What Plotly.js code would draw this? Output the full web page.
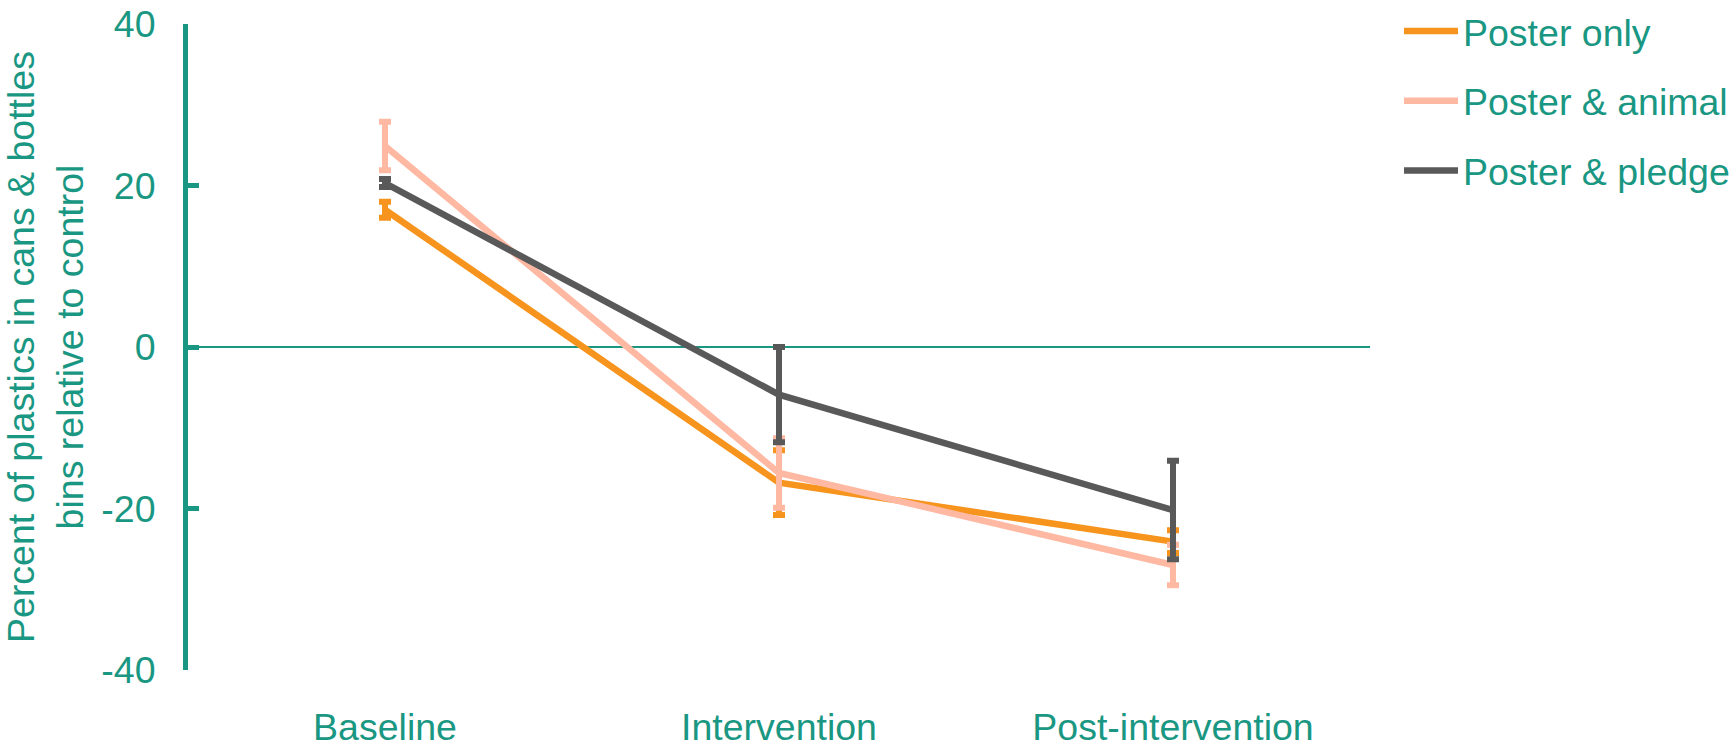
<!DOCTYPE html>
<html>
<head>
<meta charset="utf-8">
<script src="https://cdn.plot.ly/plotly-3.0.1.min.js"></script>
<style>
  html, body { margin: 0; padding: 0; background: #ffffff; }
  #chart { width: 1731px; height: 744px; }
</style>
</head>
<body>
<div id="chart"></div>
<script>
// ---- Data ----
const categories = ['Baseline', 'Intervention', 'Post-intervention'];

const posterOnly = [17.0, -16.8, -24.1];
const posterOnlyErr = [1.0, 4.0, 1.4];

const posterAnimal = [24.9, -15.6, -27.0];
const posterAnimalErr = [3.0, 4.3, 2.5];

const posterPledge = [20.3, -5.9, -20.2];
const posterPledgeErr = [0.5, 5.9, 6.1];

const seriesNames = ['Poster only', 'Poster & animal', 'Poster & pledge'];

const yTickVals = [-40, -20, 0, 20, 40];

// ---- Styling ----
const TEAL = '#1A9782';
const COLORS = ['#F7941E', '#FFB8A2', '#595959'];
const FONT = 'Liberation Sans, Arial, sans-serif';
const FS = 37.5;

function makeTrace(name, y, err, color, group) {
  return {
    type: 'scatter',
    mode: 'lines',
    name: name,
    legendgroup: group,
    x: categories,
    y: y,
    line: { color: color, width: 6.5 },
    error_y: {
      type: 'data',
      array: err,
      visible: true,
      color: color,
      thickness: 6,
      width: 6
    },
    hoverinfo: 'x+y+name'
  };
}

const data = [
  makeTrace(seriesNames[0], posterOnly, posterOnlyErr, COLORS[0], 'g1'),
  makeTrace(seriesNames[1], posterAnimal, posterAnimalErr, COLORS[1], 'g2'),
  makeTrace(seriesNames[2], posterPledge, posterPledgeErr, COLORS[2], 'g3')
];

const layout = {
  width: 1731,
  height: 744,
  paper_bgcolor: '#ffffff',
  plot_bgcolor: '#ffffff',
  font: { family: FONT, size: FS, color: TEAL },
  margin: { l: 188, r: 361, t: 24, b: 74, pad: 0 },
  showlegend: true,
  legend: {
    xref: 'container',
    yref: 'container',
    x: 0.8082,
    xanchor: 'left',
    y: 1.0124,
    yanchor: 'top',
    font: { family: FONT, size: FS, color: TEAL },
    traceorder: 'grouped',
    tracegroupgap: 18,
    itemwidth: 54,
    bgcolor: 'rgba(0,0,0,0)',
    borderwidth: 0
  },
  xaxis: {
    type: 'category',
    range: [-0.5, 2.5],
    showline: false,
    showgrid: false,
    zeroline: false,
    ticks: '',
    tickfont: { family: FONT, size: FS, color: TEAL },
    ticklabelstandoff: 31,
    fixedrange: true
  },
  yaxis: {
    range: [-40, 40],
    tickvals: yTickVals,
    ticktext: yTickVals.map(String),
    showline: true,
    linecolor: TEAL,
    linewidth: 5,
    ticks: 'inside',
    ticklen: 11,
    tickwidth: 5,
    tickcolor: TEAL,
    showgrid: false,
    zeroline: true,
    zerolinecolor: TEAL,
    zerolinewidth: 2,
    tickfont: { family: FONT, size: FS, color: TEAL },
    ticklabelstandoff: 20,
    automargin: false,
    title: {
      text: 'Percent of plastics in cans &amp; bottles<br>bins relative to control',
      font: { family: FONT, size: FS, color: TEAL },
      standoff: 8
    },
    fixedrange: true
  }
};

Plotly.newPlot('chart', data, layout, { displayModeBar: false });
</script>
</body>
</html>
